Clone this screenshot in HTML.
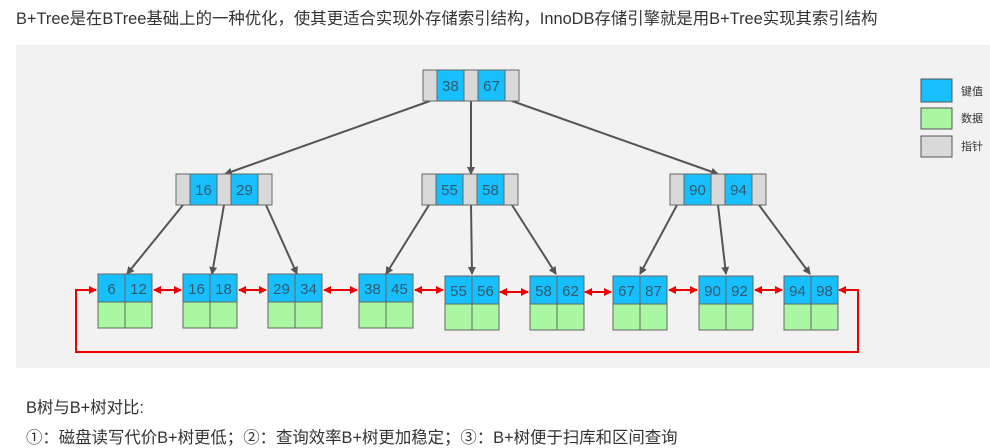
<!DOCTYPE html>
<html><head><meta charset="utf-8"><style>
body{margin:0;width:990px;height:444px;background:#fff;font-family:"Liberation Sans","Noto Sans CJK SC",sans-serif;color:#333;overflow:hidden;position:relative}
.t{position:absolute;font-size:16.4px;white-space:nowrap}
</style></head><body>
<div class="t" style="left:16px;top:5px">B+Tree是在BTree基础上的一种优化，使其更适合实现外存储索引结构，InnoDB存储引擎就是用B+Tree实现其索引结构</div>
<svg style="position:absolute;left:0;top:0" width="990" height="444" xmlns="http://www.w3.org/2000/svg" font-family="Liberation Sans, sans-serif">
<defs>
<marker id="g" markerWidth="8" markerHeight="8" refX="7" refY="4" orient="auto" markerUnits="userSpaceOnUse"><path d="M0,0L8,4L0,8z" fill="#555"/></marker>
<marker id="r" markerWidth="8" markerHeight="8" refX="7" refY="4" orient="auto-start-reverse" markerUnits="userSpaceOnUse"><path d="M0,0L8,4L0,8z" fill="#e00"/></marker>
</defs>
<rect x="16" y="45" width="974" height="323" fill="#f2f2f2"/>
<g stroke="#555" stroke-width="2" marker-end="url(#g)">
<line x1="430" y1="101" x2="225" y2="174"/><line x1="471" y1="101" x2="471" y2="174"/><line x1="512" y1="101" x2="718" y2="174"/>
<line x1="183" y1="205" x2="127" y2="274"/><line x1="224" y1="205" x2="212" y2="274"/><line x1="266" y1="205" x2="297" y2="274"/>
<line x1="429" y1="205" x2="386" y2="274"/><line x1="471" y1="205" x2="472" y2="274"/><line x1="512" y1="205" x2="556" y2="274"/>
<line x1="677" y1="205" x2="640" y2="274"/><line x1="718" y1="205" x2="726" y2="274"/><line x1="759" y1="205" x2="810" y2="274"/>
</g>
<g stroke="#666" stroke-width="1" font-size="15" fill="#34586e" text-anchor="middle">
<g transform="translate(423,70)"><rect width="96" height="31" fill="#d9d9d9"/><rect x="14" width="27" height="31" fill="#17c0fd"/><rect x="55" width="27" height="31" fill="#17c0fd"/><text x="27.5" y="21" stroke="none">38</text><text x="68.5" y="21" stroke="none">67</text></g>
<g transform="translate(176,174)"><rect width="96" height="31" fill="#d9d9d9"/><rect x="14" width="27" height="31" fill="#17c0fd"/><rect x="55" width="27" height="31" fill="#17c0fd"/><text x="27.5" y="21" stroke="none">16</text><text x="68.5" y="21" stroke="none">29</text></g>
<g transform="translate(422,174)"><rect width="96" height="31" fill="#d9d9d9"/><rect x="14" width="27" height="31" fill="#17c0fd"/><rect x="55" width="27" height="31" fill="#17c0fd"/><text x="27.5" y="21" stroke="none">55</text><text x="68.5" y="21" stroke="none">58</text></g>
<g transform="translate(670,174)"><rect width="96" height="31" fill="#d9d9d9"/><rect x="14" width="27" height="31" fill="#17c0fd"/><rect x="55" width="27" height="31" fill="#17c0fd"/><text x="27.5" y="21" stroke="none">90</text><text x="68.5" y="21" stroke="none">94</text></g>
</g>
<g stroke="#666" stroke-width="1" font-size="15" fill="#34586e" text-anchor="middle">
<g transform="translate(98,274)"><rect width="27" height="28" fill="#17c0fd"/><rect x="27" width="27" height="28" fill="#17c0fd"/><rect y="28" width="27" height="26" fill="#a9f7a0"/><rect x="27" y="28" width="27" height="26" fill="#a9f7a0"/><text x="13.5" y="20" stroke="none">6</text><text x="40.5" y="20" stroke="none">12</text></g>
<g transform="translate(183,274)"><rect width="27" height="28" fill="#17c0fd"/><rect x="27" width="27" height="28" fill="#17c0fd"/><rect y="28" width="27" height="26" fill="#a9f7a0"/><rect x="27" y="28" width="27" height="26" fill="#a9f7a0"/><text x="13.5" y="20" stroke="none">16</text><text x="40.5" y="20" stroke="none">18</text></g>
<g transform="translate(268,274)"><rect width="27" height="28" fill="#17c0fd"/><rect x="27" width="27" height="28" fill="#17c0fd"/><rect y="28" width="27" height="26" fill="#a9f7a0"/><rect x="27" y="28" width="27" height="26" fill="#a9f7a0"/><text x="13.5" y="20" stroke="none">29</text><text x="40.5" y="20" stroke="none">34</text></g>
<g transform="translate(359,274)"><rect width="27" height="28" fill="#17c0fd"/><rect x="27" width="27" height="28" fill="#17c0fd"/><rect y="28" width="27" height="26" fill="#a9f7a0"/><rect x="27" y="28" width="27" height="26" fill="#a9f7a0"/><text x="13.5" y="20" stroke="none">38</text><text x="40.5" y="20" stroke="none">45</text></g>
<g transform="translate(445,276)"><rect width="27" height="28" fill="#17c0fd"/><rect x="27" width="27" height="28" fill="#17c0fd"/><rect y="28" width="27" height="26" fill="#a9f7a0"/><rect x="27" y="28" width="27" height="26" fill="#a9f7a0"/><text x="13.5" y="20" stroke="none">55</text><text x="40.5" y="20" stroke="none">56</text></g>
<g transform="translate(530,276)"><rect width="27" height="28" fill="#17c0fd"/><rect x="27" width="27" height="28" fill="#17c0fd"/><rect y="28" width="27" height="26" fill="#a9f7a0"/><rect x="27" y="28" width="27" height="26" fill="#a9f7a0"/><text x="13.5" y="20" stroke="none">58</text><text x="40.5" y="20" stroke="none">62</text></g>
<g transform="translate(613,276)"><rect width="27" height="28" fill="#17c0fd"/><rect x="27" width="27" height="28" fill="#17c0fd"/><rect y="28" width="27" height="26" fill="#a9f7a0"/><rect x="27" y="28" width="27" height="26" fill="#a9f7a0"/><text x="13.5" y="20" stroke="none">67</text><text x="40.5" y="20" stroke="none">87</text></g>
<g transform="translate(699,276)"><rect width="27" height="28" fill="#17c0fd"/><rect x="27" width="27" height="28" fill="#17c0fd"/><rect y="28" width="27" height="26" fill="#a9f7a0"/><rect x="27" y="28" width="27" height="26" fill="#a9f7a0"/><text x="13.5" y="20" stroke="none">90</text><text x="40.5" y="20" stroke="none">92</text></g>
<g transform="translate(784,276)"><rect width="27" height="28" fill="#17c0fd"/><rect x="27" width="27" height="28" fill="#17c0fd"/><rect y="28" width="27" height="26" fill="#a9f7a0"/><rect x="27" y="28" width="27" height="26" fill="#a9f7a0"/><text x="13.5" y="20" stroke="none">94</text><text x="40.5" y="20" stroke="none">98</text></g>
</g>
<g stroke="#e00" stroke-width="2" fill="none" marker-start="url(#r)" marker-end="url(#r)">
<line x1="154" y1="290" x2="181" y2="290"/><line x1="239" y1="290" x2="266" y2="290"/><line x1="324" y1="290" x2="357" y2="290"/>
<line x1="415" y1="290" x2="443" y2="290"/><line x1="500" y1="292" x2="528" y2="292"/><line x1="585" y1="292" x2="611" y2="292"/>
<line x1="669" y1="290" x2="697" y2="290"/><line x1="755" y1="290" x2="782" y2="290"/>
</g>
<path d="M839,290 H858 V352 H76 V290 H96" stroke="#e00" stroke-width="2" fill="none" marker-start="url(#r)" marker-end="url(#r)"/>
<g stroke="#555" stroke-width="1" font-size="11" fill="#333" font-family="Liberation Sans, Noto Sans CJK SC, sans-serif">
<rect x="921" y="79" width="31" height="23" fill="#17c0fd"/><text x="961" y="95" stroke="none">键值</text>
<rect x="921" y="108" width="31" height="21" fill="#a9f7a0"/><text x="961" y="122" stroke="none">数据</text>
<rect x="921" y="136" width="31" height="21" fill="#d9d9d9"/><text x="961" y="150" stroke="none">指针</text>
</g>
</svg>
<div class="t" style="left:26px;top:394px">B树与B+树对比:</div>
<div class="t" style="left:26px;top:424px">①：磁盘读写代价B+树更低；②：查询效率B+树更加稳定；③：B+树便于扫库和区间查询</div>
</body></html>
